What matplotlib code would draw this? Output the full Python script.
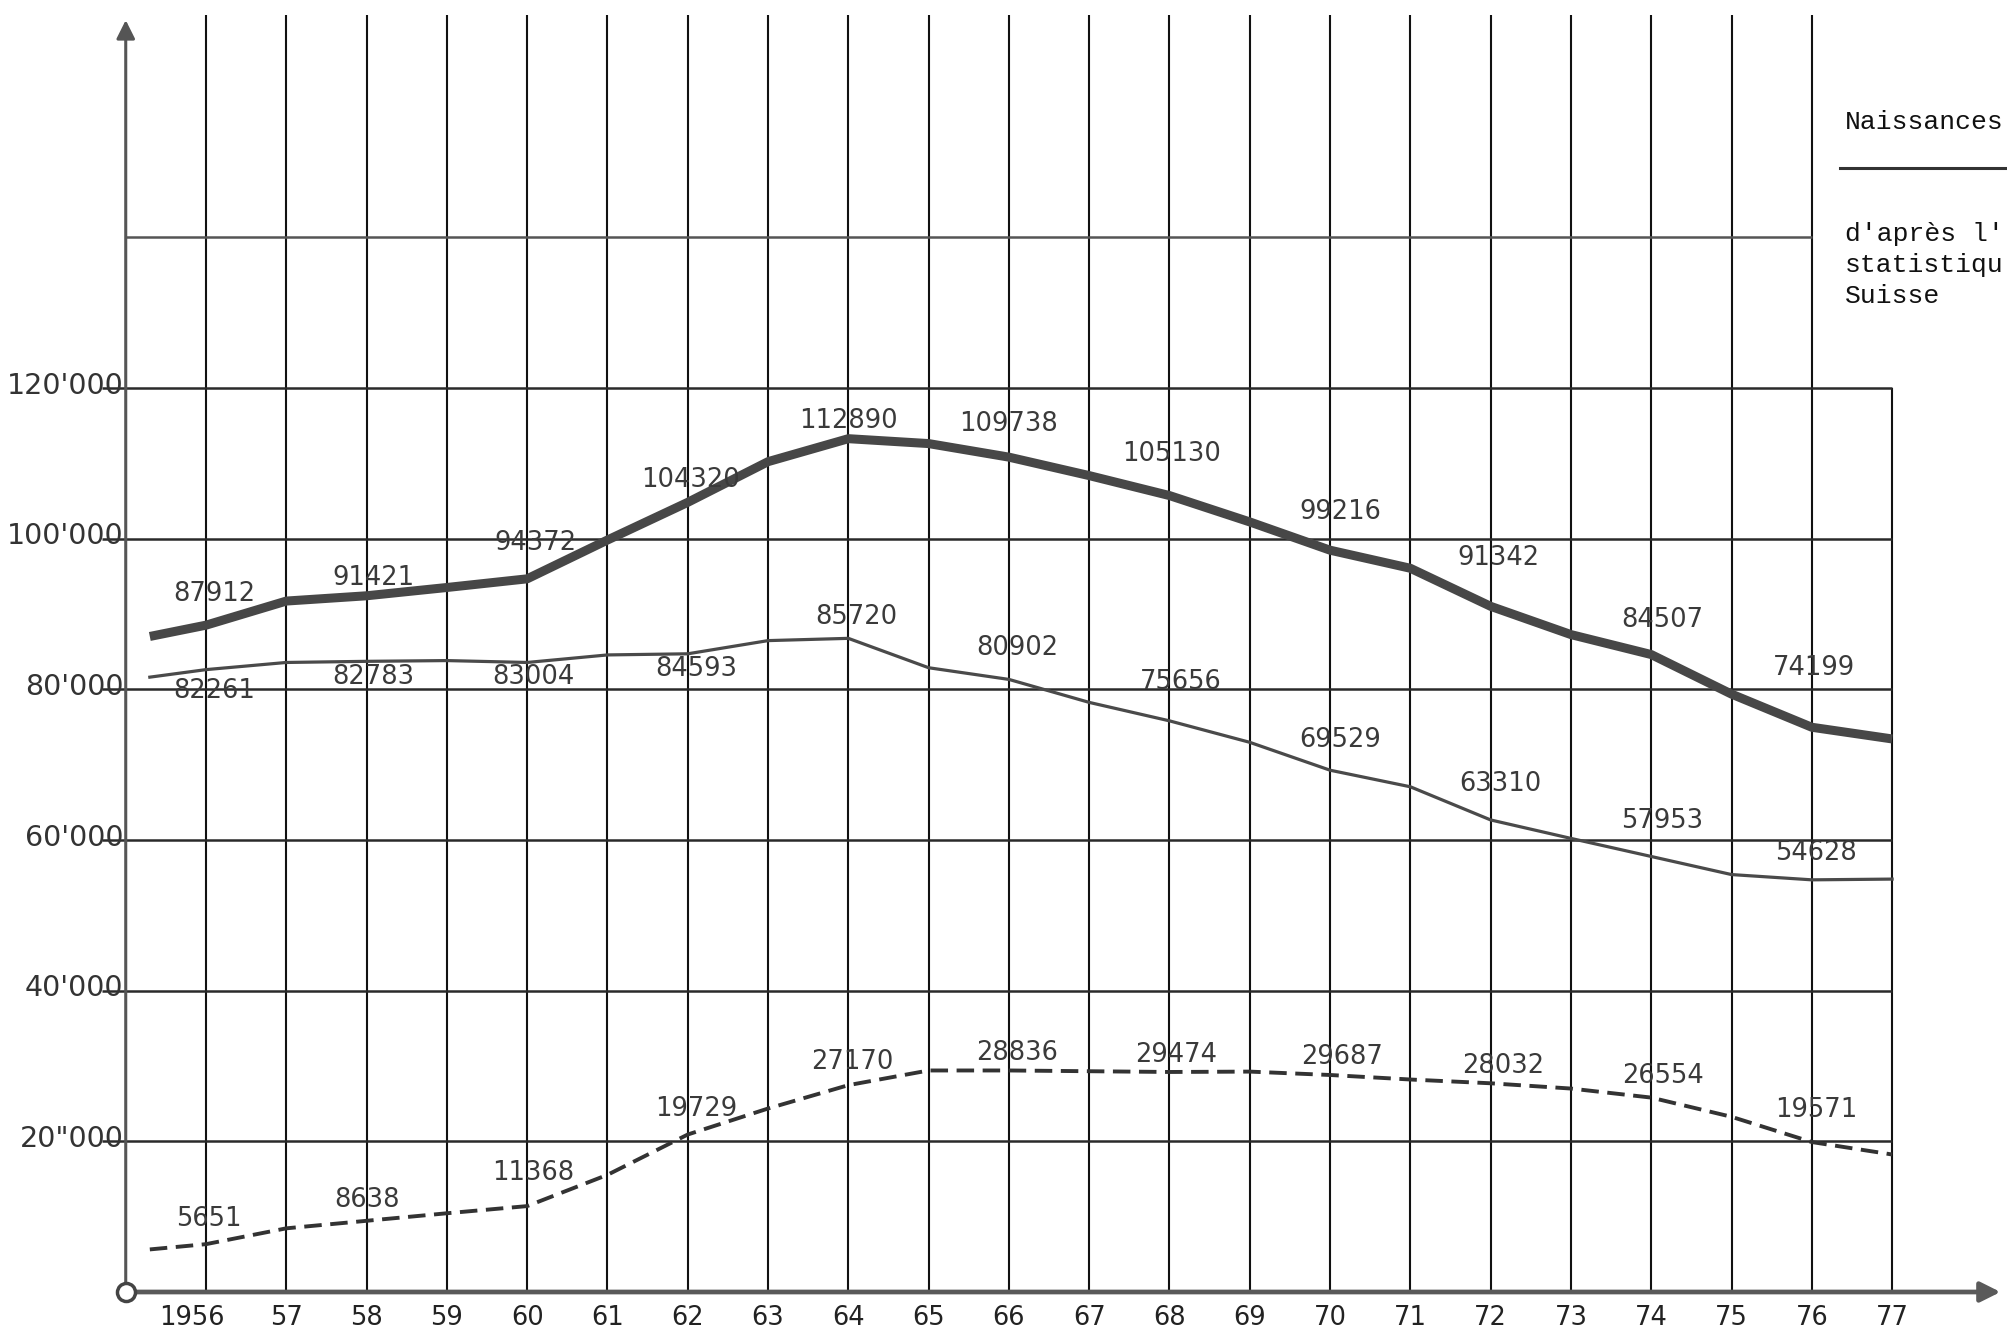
#!/usr/bin/env python3
"""Redraw the Swiss births chart (1956-77): total, Swiss and foreign births."""

import matplotlib

matplotlib.use("Agg")
import matplotlib.pyplot as plt


# values (first point is where the pen started)
years = [1955.3, 1956, 1957, 1958, 1959, 1960, 1961, 1962, 1963, 1964, 1965, 1966,
         1967, 1968, 1969, 1970, 1971, 1972, 1973, 1974, 1975, 1976, 1977]
total_births = [87000, 88500, 91700, 92400, 93500, 94650, 99800, 104800, 110200, 113250,
                112600, 110800, 108350, 105700, 102200, 98450, 96050, 91000, 87250,
                84600, 79350, 74950, 73400]
swiss_births = [81600, 82600, 83550, 83700, 83800, 83550, 84550, 84700, 86450, 86750,
                82850, 81300, 78250, 75800, 72950, 69250, 67050, 62650, 60200, 57800,
                55400, 54700, 54800]
foreign_births = [5650, 6350, 8450, 9450, 10450, 11400, 15550, 20900, 24350, 27450,
                  29400, 29400, 29300, 29200, 29250, 28800, 28200, 27700, 27000, 25800,
                  23250, 19900, 18250]

# numbers written on the chart, every second year
label_years = [1956, 1958, 1960, 1962, 1964, 1966, 1968, 1970, 1972, 1974, 1976]
total_labels = ["87912", "91421", "94372", "104320", "112890", "109738", "105130",
                "99216", "91342", "84507", "74199"]
swiss_labels = ["82261", "82783", "83004", "84593", "85720", "80902", "75656",
                "69529", "63310", "57953", "54628"]
foreign_labels = ["5651", "8638", "11368", "19729", "27170", "28836", "29474",
                  "29687", "28032", "26554", "19571"]

grid_years = list(range(1956, 1978))
year_labels = ["1956"] + [f"{y % 100:02d}" for y in grid_years[1:]]
y_ticks = [20000, 40000, 60000, 80000, 100000, 120000]
y_tick_labels = ['20"000', "40'000", "60'000", "80'000", "100'000", "120'000"]

# label placement relative to the curve (layout only)
total_dy = [4100, 2400, 4700, 3000, 2400, 4350, 5500, 5050, 6450, 4650, 7900]
swiss_dy = [-2800, -2100, -1950, -2000, 2800, 4150, 5100, 4000, 4800, 4750, 3550]
foreign_dy = [3300, 2750, 4450, 3450, 3100, 2300, 2250, 2450, 2300, 2850, 4250]
total_dx = [0.1, 0.08, 0.1, 0.04, 0.0, 0.0, 0.02, 0.13, 0.1, 0.14, 0.03]
swiss_dx = [0.1, 0.08, 0.08, 0.1, 0.1, 0.1, 0.14, 0.13, 0.12, 0.14, 0.05]
foreign_dx = [0.04, 0.0, 0.08, 0.1, 0.05, 0.1, 0.08, 0.15, 0.15, 0.15, 0.05]

AXIS_X = 1955.0
MONO = ["Liberation Mono", "DejaVu Sans Mono"]


def draw_grid(ax):
    tall = [y for y in grid_years if y < 1977]
    ax.vlines(tall, 0, 169500, color="#111111", lw=1.5, zorder=1)
    ax.vlines(1977, 0, 120000, color="#111111", lw=1.5, zorder=1)
    ax.hlines(y_ticks, 1954.7, 1977, color="#2a2a2a", lw=1.8, zorder=1)
    ax.hlines(140000, AXIS_X, 1976, color="#555555", lw=1.8, zorder=1)

    ax.annotate("", xy=(AXIS_X, 168800), xytext=(AXIS_X, 0),
                arrowprops=dict(arrowstyle="-|>", color="#555555", lw=2.2,
                                mutation_scale=28, shrinkA=0, shrinkB=0), zorder=2)
    ax.annotate("", xy=(1978.35, 0), xytext=(AXIS_X, 0),
                arrowprops=dict(arrowstyle="-|>", color="#5a5a5a", lw=3.4,
                                mutation_scale=30, shrinkA=0, shrinkB=0), zorder=2)
    ax.plot(AXIS_X, 0, "o", mfc="white", mec="#444444", ms=13, mew=2.5, zorder=5)

    for val, txt in zip(y_ticks, y_tick_labels):
        ax.text(1954.97, val + 300, txt, ha="right", va="center", fontsize=20.5,
                color="#333333", zorder=3)
    for yr, txt in zip(grid_years, year_labels):
        x = yr - 0.18 if yr == 1956 else yr
        ax.text(x, -3450, txt, ha="center", va="center", fontsize=18.5, color="#222222")


def draw_series(ax):
    ax.plot(years, total_births, color="#474747", lw=6.5, solid_capstyle="butt", zorder=4)
    ax.plot(years, swiss_births, color="#4a4a4a", lw=2.3, zorder=4)
    ax.plot(years, foreign_births, color="#333333", lw=2.8, dashes=(4.5, 2.2), zorder=4)

    for values, labels, dxs, dys in (
        (total_births, total_labels, total_dx, total_dy),
        (swiss_births, swiss_labels, swiss_dx, swiss_dy),
        (foreign_births, foreign_labels, foreign_dx, foreign_dy),
    ):
        for yr, txt, dx, dy in zip(label_years, labels, dxs, dys):
            v = values[years.index(yr)]
            ax.text(yr + dx, v + dy, txt, ha="center", va="center", fontsize=18.5,
                    color="#3a3a3a", zorder=6)


def draw_caption(fig):
    x0 = 1845 / 2007
    fig.text(x0, 1 - 122 / 1336, "Naissances", family=MONO, fontsize=19,
             color="#111111", va="center", ha="left")
    fig.add_artist(plt.Line2D([1840 / 2007, 1.0], [1 - 168 / 1336] * 2,
                              color="#333333", lw=2.2))
    for y_px, txt in ((234, "d'après l'"), (265, "statistiqu"), (296, "Suisse")):
        fig.text(x0, 1 - y_px / 1336, txt, family=MONO, fontsize=19,
                 color="#111111", va="center", ha="left")


def main():
    fig = plt.figure(figsize=(20.07, 13.36), dpi=100)
    fig.patch.set_facecolor("white")
    ax = fig.add_axes([0, 0, 1, 1])
    ax.set_xlim(1953.434, 1978.431)
    ax.set_ylim(-5840, 171470)
    ax.axis("off")

    draw_grid(ax)
    draw_series(ax)
    draw_caption(fig)

    fig.savefig("out.png", dpi=100, facecolor="white")


if __name__ == "__main__":
    main()
